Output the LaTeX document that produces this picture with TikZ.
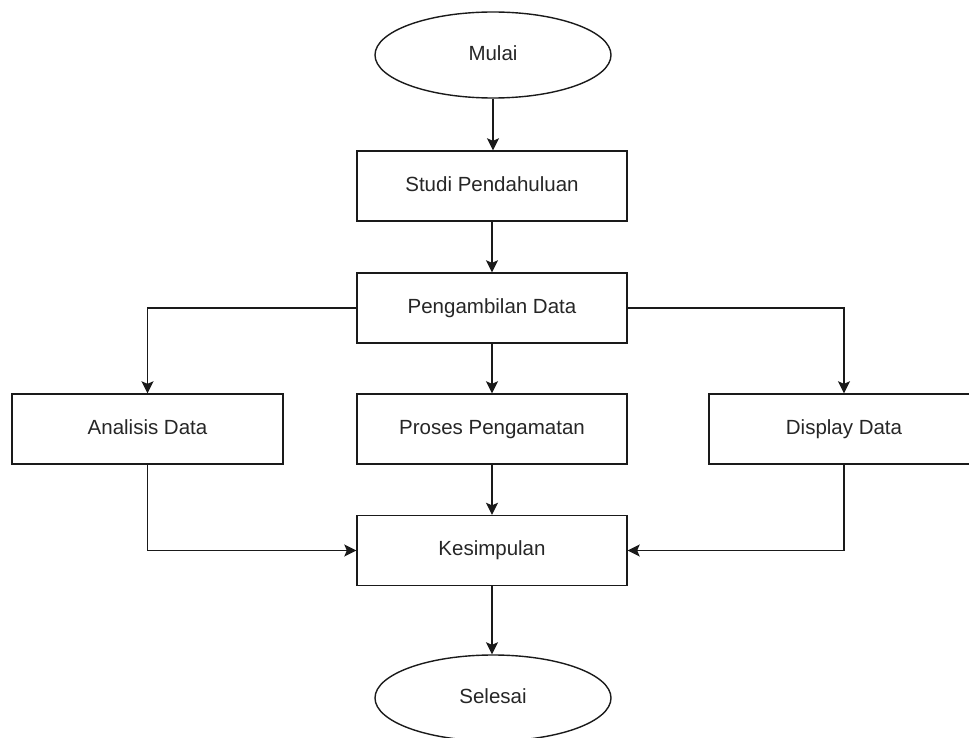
\documentclass[tikz,border=0pt]{standalone}
\usepackage{fontspec}
\setmainfont{Liberation Sans}
\usetikzlibrary{shapes.geometric,arrows.meta}
\definecolor{txt}{HTML}{262626}
\definecolor{ln}{HTML}{1A1A1A}
\begin{document}
\begin{tikzpicture}[x=1pt,y=-1pt,
  every node/.style={font=\fontsize{20.5}{24}\selectfont,text=txt,text height=15pt,text depth=4.5pt},
  procbox/.style={draw=ln,line width=1.4pt,rectangle,minimum width=270pt,minimum height=70pt,inner sep=0pt},
  termbox/.style={draw=ln,line width=1.4pt,ellipse,minimum width=236pt,minimum height=86pt,inner sep=0pt},
  conn/.style={draw=ln,line width=1.4pt,-{Stealth[length=12pt,width=12pt,inset=2.5pt]}}]
\useasboundingbox (0,0) rectangle (969,738);
\clip (0,0) rectangle (969,738);
\node[termbox] (mulai) at (493,55) {Mulai};
\node[procbox] (studi) at (492,186) {Studi Pendahuluan};
\node[procbox] (peng) at (492,308) {Pengambilan Data};
\node[procbox,minimum width=271pt] (anal) at (147.5,429) {Analisis Data};
\node[procbox] (proses) at (492,429) {Proses Pengamatan};
\node[procbox] (disp) at (844,429) {Display Data};
\node[procbox] (kesim) at (492,550.5) {Kesimpulan};
\node[termbox] (selesai) at (493,698) {Selesai};
\draw[conn] (mulai.south) -- (mulai.south |- studi.north);
\draw[conn] (studi) -- (peng);
\draw[conn] (peng) -- (proses);
\draw[conn] (peng.west) -| (anal.north);
\draw[conn] (peng.east) -| (disp.north);
\draw[conn] (proses) -- (kesim);
\draw[conn] (anal.south) |- (kesim.west);
\draw[conn] (disp.south) |- (kesim.east);
\draw[conn] (kesim.south) -- (kesim.south |- selesai.north);
\end{tikzpicture}
\end{document}
